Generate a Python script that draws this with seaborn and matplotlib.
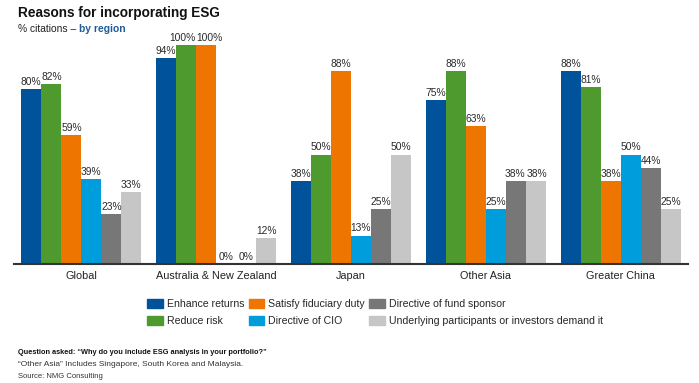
import matplotlib
matplotlib.use("Agg")
import matplotlib.pyplot as plt
import seaborn as sns
import pandas as pd

regions = ["Global", "Australia & New Zealand", "Japan", "Other Asia", "Greater China"]
reasons = ["Enhance returns", "Reduce risk", "Satisfy fiduciary duty",
           "Directive of CIO", "Directive of fund sponsor",
           "Underlying participants or investors demand it"]
enhance_returns = [80, 94, 38, 75, 88]
reduce_risk = [82, 100, 50, 88, 81]
satisfy_fiduciary = [59, 100, 88, 63, 38]
directive_cio = [39, 0, 13, 25, 50]
directive_sponsor = [23, 0, 25, 38, 44]
underlying_demand = [33, 12, 50, 38, 25]
colors = ["#00529B", "#4E9A2F", "#EE7600", "#009DDC", "#777777", "#C6C6C6"]

series = [enhance_returns, reduce_risk, satisfy_fiduciary,
          directive_cio, directive_sponsor, underlying_demand]
rows = []
for reason, vals in zip(reasons, series):
    for reg, v in zip(regions, vals):
        rows.append({"Region": reg, "Reason": reason, "Value": v})
df = pd.DataFrame(rows)

sns.set_theme(style="white")
plt.rcParams["font.family"] = ["Liberation Sans", "DejaVu Sans"]

fig = plt.figure(figsize=(6.99, 3.83), dpi=100)
ax = fig.add_axes([14/699, (383-264)/383, (688-14)/699, (264-45)/383])

sns.barplot(data=df, x="Region", y="Value", hue="Reason", order=regions,
            hue_order=reasons, palette=colors, width=0.89, saturation=1,
            linewidth=0, ax=ax, legend=False)

all_labels = []
for cont in ax.containers:
    labels = ax.bar_label(cont, fmt="{:.0f}%", padding=1.5, fontsize=7.4,
                          color="#2a2a2a")
    for t in labels:
        t.set_clip_on(False)
    all_labels.append(labels)

ax.set_xlim(-0.5, 4.5)
ax.set_ylim(0, 100)
ax.set_xlabel("")
ax.set_ylabel("")
ax.set_yticks([])
for s in ["top", "right", "left"]:
    ax.spines[s].set_visible(False)
ax.spines["bottom"].set_color("#333333")
ax.spines["bottom"].set_linewidth(1.5)
ax.tick_params(axis="x", length=0, labelsize=7.8, labelcolor="#222222", pad=5)

# nudge apart adjacent value labels that would touch
fig.canvas.draw()
r = fig.canvas.get_renderer()
px2pt = 72 / fig.dpi
for g in range(len(regions)):
    for h in range(len(reasons) - 1):
        a, b = all_labels[h][g], all_labels[h + 1][g]
        ba, bb_ = a.get_window_extent(r), b.get_window_extent(r)
        if ba.overlaps(bb_):
            ov = ba.x1 - bb_.x0 + 1
            dxa, dya = a.xyann
            dxb, dyb = b.xyann
            a.xyann = (dxa - ov / 2 * px2pt, dya)
            b.xyann = (dxb + ov / 2 * px2pt, dyb)

handles = [plt.Rectangle((0, 0), 1, 1, color=c) for c in colors]
fig.legend(handles, reasons, ncol=3, loc="upper left",
           bbox_to_anchor=(147/699, 1 - 299/383), frameon=False,
           fontsize=7.6, handlelength=1.5, handleheight=1.0,
           handletextpad=0.38, columnspacing=0.4, labelspacing=0.6,
           borderaxespad=0, borderpad=0)

fig.text(18/699, 1 - 13/383, "Reasons for incorporating ESG", fontsize=9.8,
         fontweight="bold", color="#111111", va="center", ha="left")
t1 = fig.text(18/699, 1 - 29/383, "% citations \u2013 ", fontsize=7.4,
              color="#222222", va="center", ha="left")
fig.canvas.draw()
bb = t1.get_window_extent()
fig.text(bb.x1 / fig.bbox.width, 1 - 29/383, "by region", fontsize=7.4,
         fontweight="bold", color="#1F5C99", va="center", ha="left")

fig.text(18/699, 1 - 352/383,
         "Question asked: \u201cWhy do you include ESG analysis in your portfolio?\u201d",
         fontsize=5.3, fontweight="bold", color="#111111", va="center")
fig.text(18/699, 1 - 365/383,
         "\u201cOther Asia\u201d Includes Singapore, South Korea and Malaysia.",
         fontsize=6.0, color="#333333", va="center")
fig.text(18/699, 1 - 377/383, "Source: NMG Consulting",
         fontsize=5.5, color="#333333", va="center")

fig.savefig("out.png", dpi=100)
